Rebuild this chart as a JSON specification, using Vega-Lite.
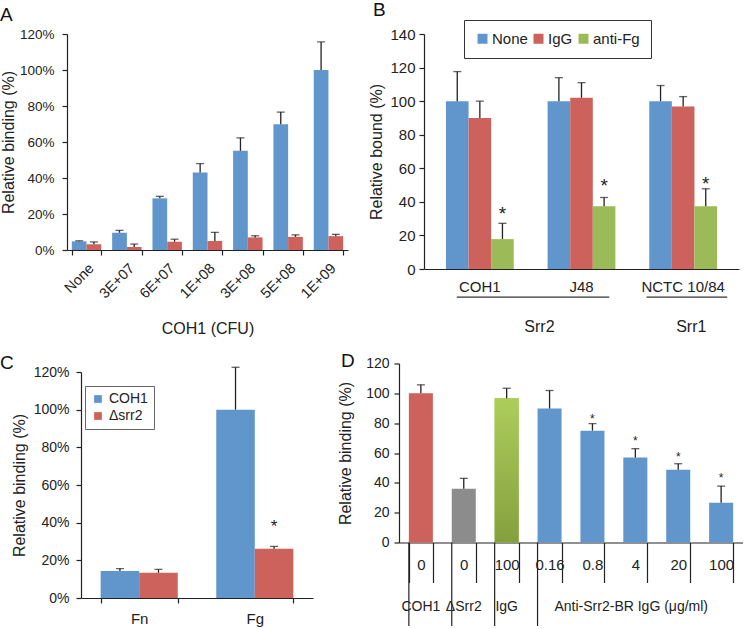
{
  "$schema": "https://vega.github.io/schema/vega-lite/v6.json",
  "padding": 0,
  "background": "white",
  "config": {
    "font": "Liberation Sans",
    "view": {"stroke": null},
    "axis": {"grid": false, "domainColor": "#222", "tickColor": "#222", "labelColor": "#222", "titleColor": "#222", "titleFontWeight": "normal", "labelFontSize": 14, "titleFontSize": 16, "tickSize": 5, "domainWidth": 1.2, "tickWidth": 1.2, "labelPadding": 3, "labelOverlap": false},
    "title": {"fontSize": 19, "fontWeight": "normal", "anchor": "start", "frame": "group", "color": "#111"},
    "legend": {"titleFontWeight": "normal", "labelColor": "#222", "symbolType": "square", "symbolStrokeWidth": 0}
  },
  "datasets": {
    "A": [
      {"conc": "None", "series": "Series 1", "value": 4.8, "err": 5.1},
      {"conc": "None", "series": "Series 2", "value": 3.2, "err": 4.5},
      {"conc": "3E+07", "series": "Series 1", "value": 9.6, "err": 10.9},
      {"conc": "3E+07", "series": "Series 2", "value": 1.6, "err": 3.3},
      {"conc": "6E+07", "series": "Series 1", "value": 28.7, "err": 29.8},
      {"conc": "6E+07", "series": "Series 2", "value": 4.6, "err": 6.0},
      {"conc": "1E+08", "series": "Series 1", "value": 43.1, "err": 48.0},
      {"conc": "1E+08", "series": "Series 2", "value": 5.0, "err": 9.8},
      {"conc": "3E+08", "series": "Series 1", "value": 55.1, "err": 62.3},
      {"conc": "3E+08", "series": "Series 2", "value": 7.0, "err": 7.9},
      {"conc": "5E+08", "series": "Series 1", "value": 69.9, "err": 76.6},
      {"conc": "5E+08", "series": "Series 2", "value": 7.3, "err": 8.4},
      {"conc": "1E+09", "series": "Series 1", "value": 100, "err": 115.6},
      {"conc": "1E+09", "series": "Series 2", "value": 7.7, "err": 8.7}
    ],
    "B": [
      {"strain": "COH1", "treatment": "None", "value": 100, "err": 117.6, "star": ""},
      {"strain": "COH1", "treatment": "IgG", "value": 90, "err": 100, "star": ""},
      {"strain": "COH1", "treatment": "anti-Fg", "value": 17.8, "err": 27.2, "star": "*", "star_at": 33},
      {"strain": "J48", "treatment": "None", "value": 100, "err": 114, "star": ""},
      {"strain": "J48", "treatment": "IgG", "value": 102, "err": 111, "star": ""},
      {"strain": "J48", "treatment": "anti-Fg", "value": 37.4, "err": 42.6, "star": "*", "star_at": 49.5},
      {"strain": "NCTC 10/84", "treatment": "None", "value": 100, "err": 109.3, "star": ""},
      {"strain": "NCTC 10/84", "treatment": "IgG", "value": 96.8, "err": 102.7, "star": ""},
      {"strain": "NCTC 10/84", "treatment": "anti-Fg", "value": 37.4, "err": 47.8, "star": "*", "star_at": 50.5}
    ],
    "C": [
      {"substrate": "Fn", "strain": "COH1", "value": 14.3, "err": 15.6, "star": ""},
      {"substrate": "Fn", "strain": "Δsrr2", "value": 13.4, "err": 15.2, "star": ""},
      {"substrate": "Fg", "strain": "COH1", "value": 100, "err": 122.5, "star": ""},
      {"substrate": "Fg", "strain": "Δsrr2", "value": 26.2, "err": 27.4, "star": "*", "star_at": 37.7}
    ],
    "D": [
      {"cat": "COH1|0", "group": "COH1", "value": 100, "err": 105.7, "star": ""},
      {"cat": "ΔSrr2|0", "group": "ΔSrr2", "value": 36, "err": 43, "star": ""},
      {"cat": "IgG|100", "group": "IgG", "value": 96.7, "err": 103.4, "star": ""},
      {"cat": "Anti|0.16", "group": "Anti-Srr2-BR IgG", "value": 89.8, "err": 101.9, "star": ""},
      {"cat": "Anti|0.8", "group": "Anti-Srr2-BR IgG", "value": 75, "err": 79.7, "star": "*", "star_at": 84},
      {"cat": "Anti|4", "group": "Anti-Srr2-BR IgG", "value": 56.9, "err": 62.9, "star": "*", "star_at": 69.4},
      {"cat": "Anti|20", "group": "Anti-Srr2-BR IgG", "value": 48.8, "err": 52.8, "star": "*", "star_at": 58.9},
      {"cat": "Anti|100", "group": "Anti-Srr2-BR IgG", "value": 26.6, "err": 37.8, "star": "*", "star_at": 44.8}
    ],
    "Bgroups": [
      {"grp": "Srr2", "from": "COH1", "to": "J48"},
      {"grp": "Srr1", "from": "NCTC 10/84", "to": "NCTC 10/84"}
    ],
    "Dsep": [
      {"cat": "COH1|0"}, {"cat": "ΔSrr2|0"}, {"cat": "IgG|100"}, {"cat": "Anti|0.16"}
    ],
    "Dlab": [
      {"cat": "COH1|0", "lab": "COH1"},
      {"cat": "ΔSrr2|0", "lab": "ΔSrr2"},
      {"cat": "IgG|100", "lab": "IgG"},
      {"cat": "Anti|4", "lab": "Anti-Srr2-BR IgG (μg/ml)"}
    ]
  },
  "resolve": {"scale": {"color": "independent", "xOffset": "independent"}, "legend": {"color": "independent"}},
  "spacing": -11,
  "hconcat": [
    {
      "bounds": "flush",
      "spacing": 122,
      "resolve": {"scale": {"color": "independent", "xOffset": "independent"}, "legend": {"color": "independent"}},
      "vconcat": [
        {
          "width": 281,
          "height": 216,
          "title": {"text": "A", "dx": -67, "offset": 2},
          "data": {"name": "A"},
          "encoding": {
            "x": {"field": "conc", "type": "nominal",
              "scale": {"domain": ["None", "3E+07", "6E+07", "1E+08", "3E+08", "5E+08", "1E+09"], "paddingInner": 0.27, "paddingOuter": 0.12},
              "axis": {"title": "COH1 (CFU)", "labelAngle": -45, "tickBand": "extent", "labelFontSize": 14.5, "labelPadding": 6, "titlePadding": 20, "titleFontSize": 16}},
            "xOffset": {"field": "series", "type": "nominal", "scale": {"domain": ["Series 1", "Series 2"]}}
          },
          "layer": [
            {"mark": {"type": "bar"},
             "encoding": {
               "y": {"field": "value", "type": "quantitative", "scale": {"domain": [0, 120]},
                 "axis": {"title": "Relative binding (%)", "values": [0, 20, 40, 60, 80, 100, 120], "labelExpr": "datum.value + '%'", "labelFontSize": 13.5, "labelPadding": 8, "titlePadding": 3}},
               "color": {"field": "series", "type": "nominal", "scale": {"domain": ["Series 1", "Series 2"], "range": ["#6096CB", "#CD625C"]}, "legend": null}
             }},
            {"mark": {"type": "rule", "color": "#222", "strokeWidth": 1.3},
             "encoding": {"y": {"field": "value", "type": "quantitative",
                 "axis": {"title": "Relative binding (%)", "values": [0, 20, 40, 60, 80, 100, 120], "labelExpr": "datum.value + '%'", "labelFontSize": 13.5, "labelPadding": 8, "titlePadding": 3}}, "y2": {"field": "err"}}},
            {"mark": {"type": "tick", "color": "#222", "size": 8, "thickness": 1.3},
             "encoding": {"y": {"field": "err", "type": "quantitative",
                 "axis": {"title": "Relative binding (%)", "values": [0, 20, 40, 60, 80, 100, 120], "labelExpr": "datum.value + '%'", "labelFontSize": 13.5, "labelPadding": 8, "titlePadding": 3}}}}
          ]
        },
        {
          "bounds": "flush",
          "spacing": 0,
          "resolve": {"scale": {"color": "independent", "xOffset": "independent"}, "legend": {"color": "independent"}},
          "hconcat": [
            {"width": 14, "height": 1, "data": {"values": [{}]}, "mark": {"type": "point", "opacity": 0}},
            {
              "width": 232,
              "height": 226,
              "title": {"text": "C", "dx": -81, "offset": -7.5},
              "data": {"name": "C"},
              "encoding": {
                "x": {"field": "substrate", "type": "nominal",
                  "scale": {"domain": ["Fn", "Fg"], "paddingInner": 0.333, "paddingOuter": 0.17},
                  "axis": {"title": null, "labelAngle": 0, "tickBand": "extent", "labelFontSize": 15, "labelPadding": 8}},
                "xOffset": {"field": "strain", "type": "nominal", "scale": {"domain": ["COH1", "Δsrr2"]}}
              },
              "layer": [
                {"mark": {"type": "bar"},
                 "encoding": {
                   "y": {"field": "value", "type": "quantitative", "scale": {"domain": [0, 120]},
                     "axis": {"title": "Relative binding (%)", "values": [0, 20, 40, 60, 80, 100, 120], "labelExpr": "datum.value + '%'", "labelPadding": 7, "titlePadding": 6}},
                   "color": {"field": "strain", "type": "nominal", "scale": {"domain": ["COH1", "Δsrr2"], "range": ["#6096CB", "#CD625C"]},
                     "legend": {"title": null, "orient": "none", "legendX": 4, "legendY": 14, "direction": "vertical", "symbolSize": 60, "labelFontSize": 14, "strokeColor": "#666", "padding": 6, "rowPadding": 3, "labelOffset": 4}}
                 }},
                {"mark": {"type": "rule", "color": "#222", "strokeWidth": 1.3},
                 "encoding": {"y": {"field": "value", "type": "quantitative",
                     "axis": {"title": "Relative binding (%)", "values": [0, 20, 40, 60, 80, 100, 120], "labelExpr": "datum.value + '%'", "labelPadding": 7, "titlePadding": 6}}, "y2": {"field": "err"}}},
                {"mark": {"type": "tick", "color": "#222", "size": 8, "thickness": 1.3},
                 "encoding": {"y": {"field": "err", "type": "quantitative",
                     "axis": {"title": "Relative binding (%)", "values": [0, 20, 40, 60, 80, 100, 120], "labelExpr": "datum.value + '%'", "labelPadding": 7, "titlePadding": 6}}}},
                {"transform": [{"filter": "datum.star == '*'"}],
                 "mark": {"type": "text", "fontSize": 17, "baseline": "middle", "dy": 0, "color": "#222"},
                 "encoding": {"y": {"field": "star_at", "type": "quantitative",
                     "axis": {"title": "Relative binding (%)", "values": [0, 20, 40, 60, 80, 100, 120], "labelExpr": "datum.value + '%'", "labelPadding": 7, "titlePadding": 6}}, "text": {"field": "star"}}}
              ]
            }
          ]
        }
      ]
    },
    {
      "spacing": 16.5,
      "resolve": {"scale": {"color": "independent", "xOffset": "independent"}, "legend": {"color": "independent"}},
      "vconcat": [
        {
          "bounds": "flush",
          "spacing": 0,
          "resolve": {"scale": {"color": "independent", "xOffset": "independent"}, "legend": {"color": "independent"}},
          "hconcat": [
            {"width": 25, "height": 1, "data": {"values": [{}]}, "mark": {"type": "point", "opacity": 0}},
            {
              "width": 315,
              "height": 235,
              "title": {"text": "B", "dx": -51, "offset": 0},
              "encoding": {
                "x": {"field": "strain", "type": "nominal",
                  "scale": {"domain": ["COH1", "J48", "NCTC 10/84"], "paddingInner": 0.333, "paddingOuter": 0.216},
                  "axis": {"title": null, "labelAngle": 0, "ticks": false, "labelFontSize": 15, "labelPadding": 10}}
              },
              "layer": [
                {"data": {"name": "B"},
                 "mark": {"type": "bar"},
                 "encoding": {
                   "xOffset": {"field": "treatment", "type": "nominal", "scale": {"domain": ["None", "IgG", "anti-Fg"]}},
                   "y": {"field": "value", "type": "quantitative", "scale": {"domain": [0, 140]},
                     "axis": {"title": "Relative bound  (%)", "values": [0, 20, 40, 60, 80, 100, 120, 140], "labelFontSize": 15, "labelPadding": 4, "titlePadding": 5}},
                   "color": {"field": "treatment", "type": "nominal", "scale": {"domain": ["None", "IgG", "anti-Fg"], "range": ["#6096CB", "#CD625C", "#9BBB59"]},
                     "legend": {"title": null, "orient": "none", "legendX": 40, "legendY": -14, "direction": "horizontal", "symbolSize": 100, "labelFontSize": 15, "strokeColor": "#333", "padding": 11, "labelOffset": 2, "columnPadding": 3}}
                 }},
                {"data": {"name": "B"},
                 "mark": {"type": "rule", "color": "#222", "strokeWidth": 1.3},
                 "encoding": {"xOffset": {"field": "treatment", "type": "nominal"},
                   "y": {"field": "value", "type": "quantitative", "axis": {"title": "Relative bound  (%)", "values": [0, 20, 40, 60, 80, 100, 120, 140], "labelFontSize": 15, "labelPadding": 4, "titlePadding": 5}}, "y2": {"field": "err"}}},
                {"data": {"name": "B"},
                 "mark": {"type": "tick", "color": "#222", "size": 8, "thickness": 1.3},
                 "encoding": {"xOffset": {"field": "treatment", "type": "nominal"},
                   "y": {"field": "err", "type": "quantitative", "axis": {"title": "Relative bound  (%)", "values": [0, 20, 40, 60, 80, 100, 120, 140], "labelFontSize": 15, "labelPadding": 4, "titlePadding": 5}}}},
                {"data": {"name": "B"},
                 "transform": [{"filter": "datum.star == '*'"}],
                 "mark": {"type": "text", "fontSize": 19, "baseline": "middle", "dy": 0, "color": "#222"},
                 "encoding": {"xOffset": {"field": "treatment", "type": "nominal"},
                   "y": {"field": "star_at", "type": "quantitative", "axis": {"title": "Relative bound  (%)", "values": [0, 20, 40, 60, 80, 100, 120, 140], "labelFontSize": 15, "labelPadding": 4, "titlePadding": 5}}, "text": {"field": "star"}}},
                {"data": {"name": "Bgroups"},
                 "transform": [{"filter": "datum.grp == 'Srr2'"}],
                 "mark": {"type": "rule", "color": "#333", "strokeWidth": 1.2},
                 "encoding": {"x": {"field": "from", "type": "nominal", "bandPosition": 0.16}, "x2": {"field": "to", "bandPosition": 0.91},
                   "y": {"datum": -16.7, "type": "quantitative", "axis": {"title": "Relative bound  (%)", "values": [0, 20, 40, 60, 80, 100, 120, 140], "labelFontSize": 15, "labelPadding": 4, "titlePadding": 5}}}},
                {"data": {"name": "Bgroups"},
                 "transform": [{"filter": "datum.grp == 'Srr1'"}],
                 "mark": {"type": "rule", "color": "#333", "strokeWidth": 1.2},
                 "encoding": {"x": {"field": "from", "type": "nominal", "bandPosition": -0.04}, "x2": {"field": "to", "bandPosition": 1.15},
                   "y": {"datum": -16.7, "type": "quantitative", "axis": {"title": "Relative bound  (%)", "values": [0, 20, 40, 60, 80, 100, 120, 140], "labelFontSize": 15, "labelPadding": 4, "titlePadding": 5}}}},
                {"data": {"name": "Bgroups"},
                 "transform": [{"filter": "datum.grp == 'Srr2'"}],
                 "mark": {"type": "text", "fontSize": 16, "baseline": "middle", "color": "#222"},
                 "encoding": {"x": {"field": "to", "type": "nominal", "bandPosition": -0.12},
                   "y": {"datum": -34.5, "type": "quantitative", "axis": {"title": "Relative bound  (%)", "values": [0, 20, 40, 60, 80, 100, 120, 140], "labelFontSize": 15, "labelPadding": 4, "titlePadding": 5}}, "text": {"field": "grp"}}},
                {"data": {"name": "Bgroups"},
                 "transform": [{"filter": "datum.grp == 'Srr1'"}],
                 "mark": {"type": "text", "fontSize": 16, "baseline": "middle", "color": "#222"},
                 "encoding": {"x": {"field": "to", "type": "nominal", "bandPosition": 0.62},
                   "y": {"datum": -34.5, "type": "quantitative", "axis": {"title": "Relative bound  (%)", "values": [0, 20, 40, 60, 80, 100, 120, 140], "labelFontSize": 15, "labelPadding": 4, "titlePadding": 5}}, "text": {"field": "grp"}}}
              ]
            }
          ]
        },
        {
          "width": 344,
          "height": 179,
          "title": {"text": "D", "dx": -58, "offset": -14.5},
          "encoding": {
            "x": {"field": "cat", "type": "nominal",
              "scale": {"domain": ["COH1|0", "ΔSrr2|0", "IgG|100", "Anti|0.16", "Anti|0.8", "Anti|4", "Anti|20", "Anti|100"], "paddingInner": 0.44, "paddingOuter": 0.23},
              "axis": {"title": null, "labelAngle": 0, "tickBand": "extent", "tickSize": 40, "labelPadding": -25, "labelFontSize": 15, "labelExpr": "split(datum.label, '|')[1]"}}
          },
          "layer": [
            {"data": {"name": "D"},
             "mark": {"type": "bar"},
             "encoding": {
               "y": {"field": "value", "type": "quantitative", "scale": {"domain": [0, 120]},
                 "axis": {"title": "Relative binding (%)", "values": [0, 20, 40, 60, 80, 100, 120], "labelPadding": 5, "titlePadding": 12}},
               "color": {"field": "group", "type": "nominal", "scale": {"domain": ["COH1", "ΔSrr2", "IgG", "Anti-Srr2-BR IgG"], "range": ["#CD625C", "#8C8C8C", "#9DBE55", "#6096CB"]}, "legend": null}
             }},
            {"data": {"name": "D"},
             "transform": [{"filter": "datum.group == 'IgG'"}],
             "mark": {"type": "bar", "color": {"gradient": "linear", "x1": 0, "y1": 0, "x2": 0, "y2": 1, "stops": [{"offset": 0, "color": "#ADCD5B"}, {"offset": 1, "color": "#84A03E"}]}},
             "encoding": {
               "y": {"field": "value", "type": "quantitative", "axis": {"title": "Relative binding (%)", "values": [0, 20, 40, 60, 80, 100, 120], "labelPadding": 5, "titlePadding": 12}}
             }},
            {"data": {"name": "D"},
             "mark": {"type": "rule", "color": "#222", "strokeWidth": 1.3},
             "encoding": {"y": {"field": "value", "type": "quantitative", "axis": {"title": "Relative binding (%)", "values": [0, 20, 40, 60, 80, 100, 120], "labelPadding": 5, "titlePadding": 12}}, "y2": {"field": "err"}}},
            {"data": {"name": "D"},
             "mark": {"type": "tick", "color": "#222", "size": 8, "thickness": 1.3},
             "encoding": {"y": {"field": "err", "type": "quantitative", "axis": {"title": "Relative binding (%)", "values": [0, 20, 40, 60, 80, 100, 120], "labelPadding": 5, "titlePadding": 12}}}},
            {"data": {"name": "D"},
             "transform": [{"filter": "datum.star == '*'"}],
             "mark": {"type": "text", "fontSize": 12, "baseline": "middle", "dy": 2, "color": "#222"},
             "encoding": {"y": {"field": "star_at", "type": "quantitative", "axis": {"title": "Relative binding (%)", "values": [0, 20, 40, 60, 80, 100, 120], "labelPadding": 5, "titlePadding": 12}}, "text": {"field": "star"}}},
            {"data": {"name": "Dsep"},
             "mark": {"type": "rule", "color": "#222", "strokeWidth": 1.2},
             "encoding": {"x": {"field": "cat", "type": "nominal", "bandPosition": 0},
               "y": {"datum": 0, "type": "quantitative", "axis": {"title": "Relative binding (%)", "values": [0, 20, 40, 60, 80, 100, 120], "labelPadding": 5, "titlePadding": 12}}, "y2": {"datum": -56}}},
            {"data": {"name": "Dlab"},
             "transform": [{"filter": "datum.lab != 'Anti-Srr2-BR IgG (μg/ml)'"}],
             "mark": {"type": "text", "fontSize": 14, "baseline": "middle", "color": "#222"},
             "encoding": {"x": {"field": "cat", "type": "nominal"},
               "y": {"datum": -43.2, "type": "quantitative", "axis": {"title": "Relative binding (%)", "values": [0, 20, 40, 60, 80, 100, 120], "labelPadding": 5, "titlePadding": 12}}, "text": {"field": "lab"}}},
            {"data": {"name": "Dlab"},
             "transform": [{"filter": "datum.lab == 'Anti-Srr2-BR IgG (μg/ml)'"}],
             "mark": {"type": "text", "fontSize": 14, "baseline": "middle", "color": "#222"},
             "encoding": {"x": {"field": "cat", "type": "nominal", "bandPosition": 0.33},
               "y": {"datum": -43.2, "type": "quantitative", "axis": {"title": "Relative binding (%)", "values": [0, 20, 40, 60, 80, 100, 120], "labelPadding": 5, "titlePadding": 12}}, "text": {"field": "lab"}}}
          ]
        }
      ]
    }
  ]
}
